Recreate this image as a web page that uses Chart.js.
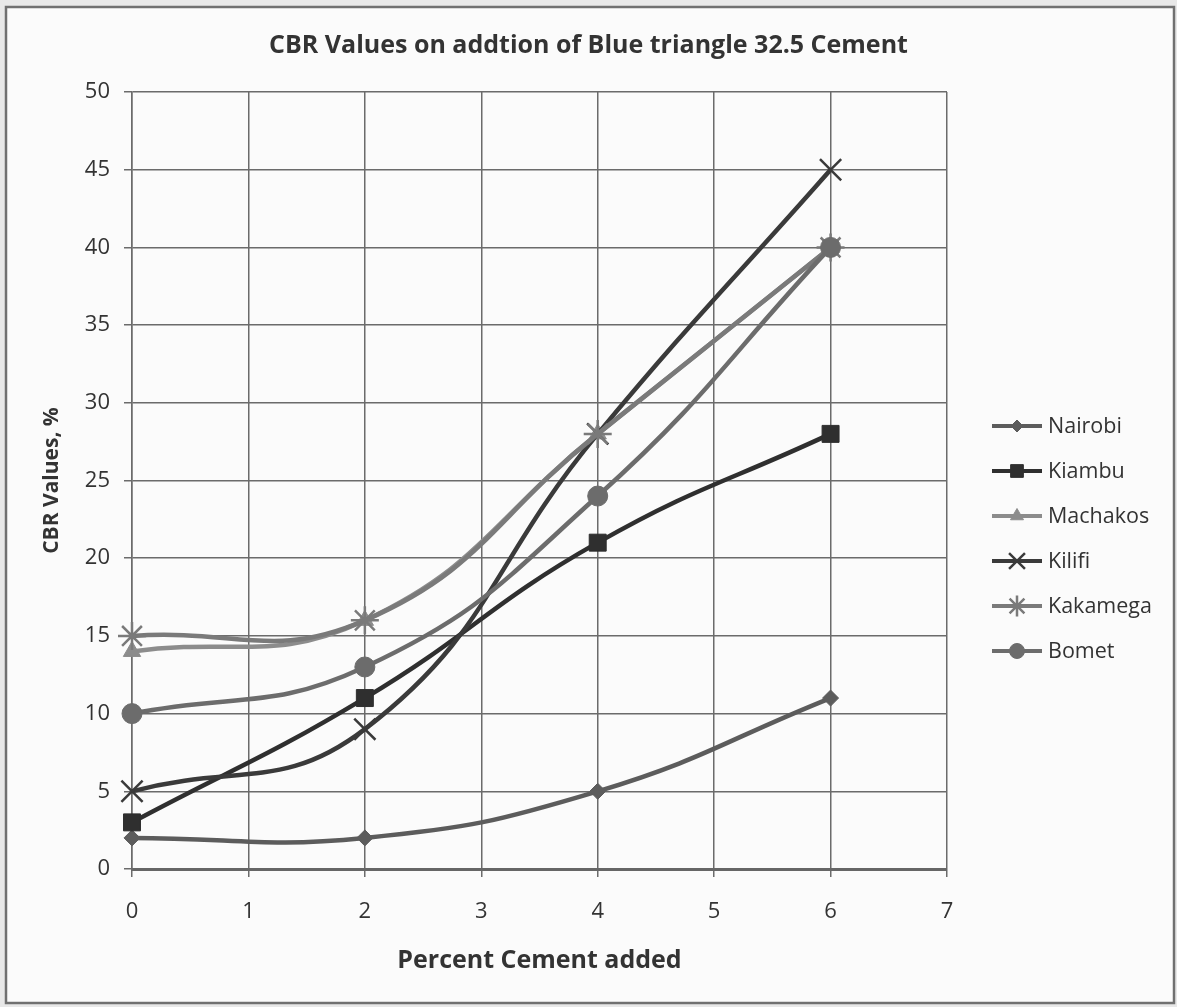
<!DOCTYPE html>
<html>
<head>
<meta charset="utf-8">
<title>CBR Values</title>
<script src="https://cdn.jsdelivr.net/npm/chart.js@4.4.1/dist/chart.umd.min.js"></script>
<style>
  html, body { margin: 0; padding: 0; background: #e8e8e8; }
  #wrap { position: absolute; left: 0; top: 0; width: 1177px; height: 1007px; }
</style>
</head>
<body>
<div id="wrap"><canvas id="cbr" width="1177" height="1007"></canvas></div>
<script>
// percent cement added (x) and CBR values (%) per site
var cementPct = [0, 2, 4, 6];
var nairobi  = [2, 2, 5, 11];
var kiambu   = [3, 11, 21, 28];
var machakos = [14, 16, 28, 40];
var kilifi   = [5, 9, 28, 45];
var kakamega = [15, 16, 28, 40];
var bomet    = [10, 13, 24, 40];

var siteNames = ["Nairobi", "Kiambu", "Machakos", "Kilifi", "Kakamega", "Bomet"];
var siteValues = [nairobi, kiambu, machakos, kilifi, kakamega, bomet];
var siteColors = ["#5c5c5c", "#2f2f2f", "#8c8c8c", "#3a3a3a", "#7a7a7a", "#6c6c6c"];
var siteMarkers = ["rectRot", "rect", "triangle", "crossRot", "star", "circle"];
var markerSizes = [8, 12, 10, 15, 14, 10];

function points(vals) {
    var out = [];
    for (let i = 0; i < cementPct.length; i++) {
        out.push({ x: cementPct[i], y: vals[i] });
    }
    return out;
}

var datasets = [];
for (let i = 0; i < siteNames.length; i++) {
    let open = siteMarkers[i] == "crossRot" || siteMarkers[i] == "star";
    datasets.push({
        label: siteNames[i],
        data: points(siteValues[i]),
        borderColor: siteColors[i],
        borderWidth: 4.5,
        backgroundColor: siteColors[i],
        pointStyle: siteMarkers[i],
        pointRadius: markerSizes[i],
        pointHoverRadius: markerSizes[i],
        pointBackgroundColor: siteColors[i],
        pointBorderColor: siteColors[i],
        pointBorderWidth: open ? 2.5 : 1,
        tension: 0.45,
        fill: false,
        clip: false,
        order: siteNames.length - i   // later series sit on top
    });
}

// page frame behind the chart
var framePlugin = {
    id: 'frame',
    beforeDraw: function(chart) {
        var c = chart.ctx;
        c.save();
        c.fillStyle = "#e8e8e8";
        c.fillRect(0, 0, chart.width, chart.height);
        c.fillStyle = "#fbfbfb";
        c.fillRect(6, 7, 1168, 996);
        c.strokeStyle = "#707070";
        c.lineWidth = 2.5;
        c.strokeRect(6, 7, 1168, 996);
        c.restore();
    }
};

// legend on the right: line + marker + name
var sideLegend = {
    id: 'sideLegend',
    afterDraw: function(chart) {
        var c = chart.ctx;
        var x0 = 992, x1 = 1042, tx = 1048, y0 = 426, gap = 45;
        chart.data.datasets.forEach(function(ds, i) {
            var y = y0 + i * gap;
            c.save();
            c.strokeStyle = ds.borderColor;
            c.lineWidth = 4;
            c.beginPath();
            c.moveTo(x0, y);
            c.lineTo(x1, y);
            c.stroke();
            c.fillStyle = ds.pointBackgroundColor;
            c.strokeStyle = ds.pointBorderColor;
            c.lineWidth = ds.pointBorderWidth;
            Chart.helpers.drawPoint(c, {
                pointStyle: ds.pointStyle,
                radius: ds.pointRadius * 0.75,
                rotation: 0,
                borderWidth: ds.pointBorderWidth
            }, (x0 + x1) / 2, y);
            c.fillStyle = "#333";
            c.font = '21.5px "Open Sans"';
            c.textBaseline = "middle";
            c.textAlign = "left";
            c.fillText(ds.label, tx, y + 1);
            c.restore();
        });
    }
};

Chart.defaults.font.family = '"Open Sans", sans-serif';
Chart.defaults.color = "#333";

var ctx = document.getElementById("cbr").getContext("2d");
var myChart = new Chart(ctx, {
    type: 'line',
    data: { datasets: datasets },
    plugins: [framePlugin, sideLegend],
    options: {
        responsive: false,
        animation: false,
        layout: { padding: 0 },
        plugins: {
            legend: { display: false },
            tooltip: { enabled: false },
            title: {
                display: true,
                text: "CBR Values on addtion of Blue triangle 32.5 Cement",
                color: "#333",
                font: { size: 25, weight: 'bold' },
                padding: { top: 31, bottom: 31 }
            }
        },
        scales: {
            x: {
                type: 'linear',
                min: 0,
                max: 7,
                ticks: { stepSize: 1, padding: 22, color: "#333", font: { size: 22 } },
                grid: { color: "#6b6b6b", lineWidth: 1.5, tickLength: 8 },
                border: { color: "#666", width: 3 },
                title: {
                    display: true,
                    text: "Percent Cement added",
                    color: "#333",
                    font: { size: 25, weight: 'bold' },
                    padding: { top: 0, bottom: 31 }
                },
                afterFit: function(s) { s.height = 138; }
            },
            y: {
                min: 0,
                max: 50,
                ticks: { stepSize: 5, padding: 14, color: "#333", font: { size: 22 } },
                grid: { color: "#6b6b6b", lineWidth: 1.5, tickLength: 8 },
                border: { color: "#6b6b6b", width: 1.5 },
                title: {
                    display: true,
                    text: "CBR Values, %",
                    color: "#333",
                    font: { size: 21, weight: 'bold' },
                    padding: { top: 39, bottom: 0 }
                },
                afterFit: function(s) { s.width = 132; }
            },
            // empty right-hand strip that holds the legend
            legendSpace: {
                type: 'linear',
                position: 'right',
                display: true,
                ticks: { display: false },
                grid: { display: false, drawOnChartArea: false },
                border: { display: false },
                afterFit: function(s) { s.width = 230; }
            }
        }
    }
});
</script>
</body>
</html>
